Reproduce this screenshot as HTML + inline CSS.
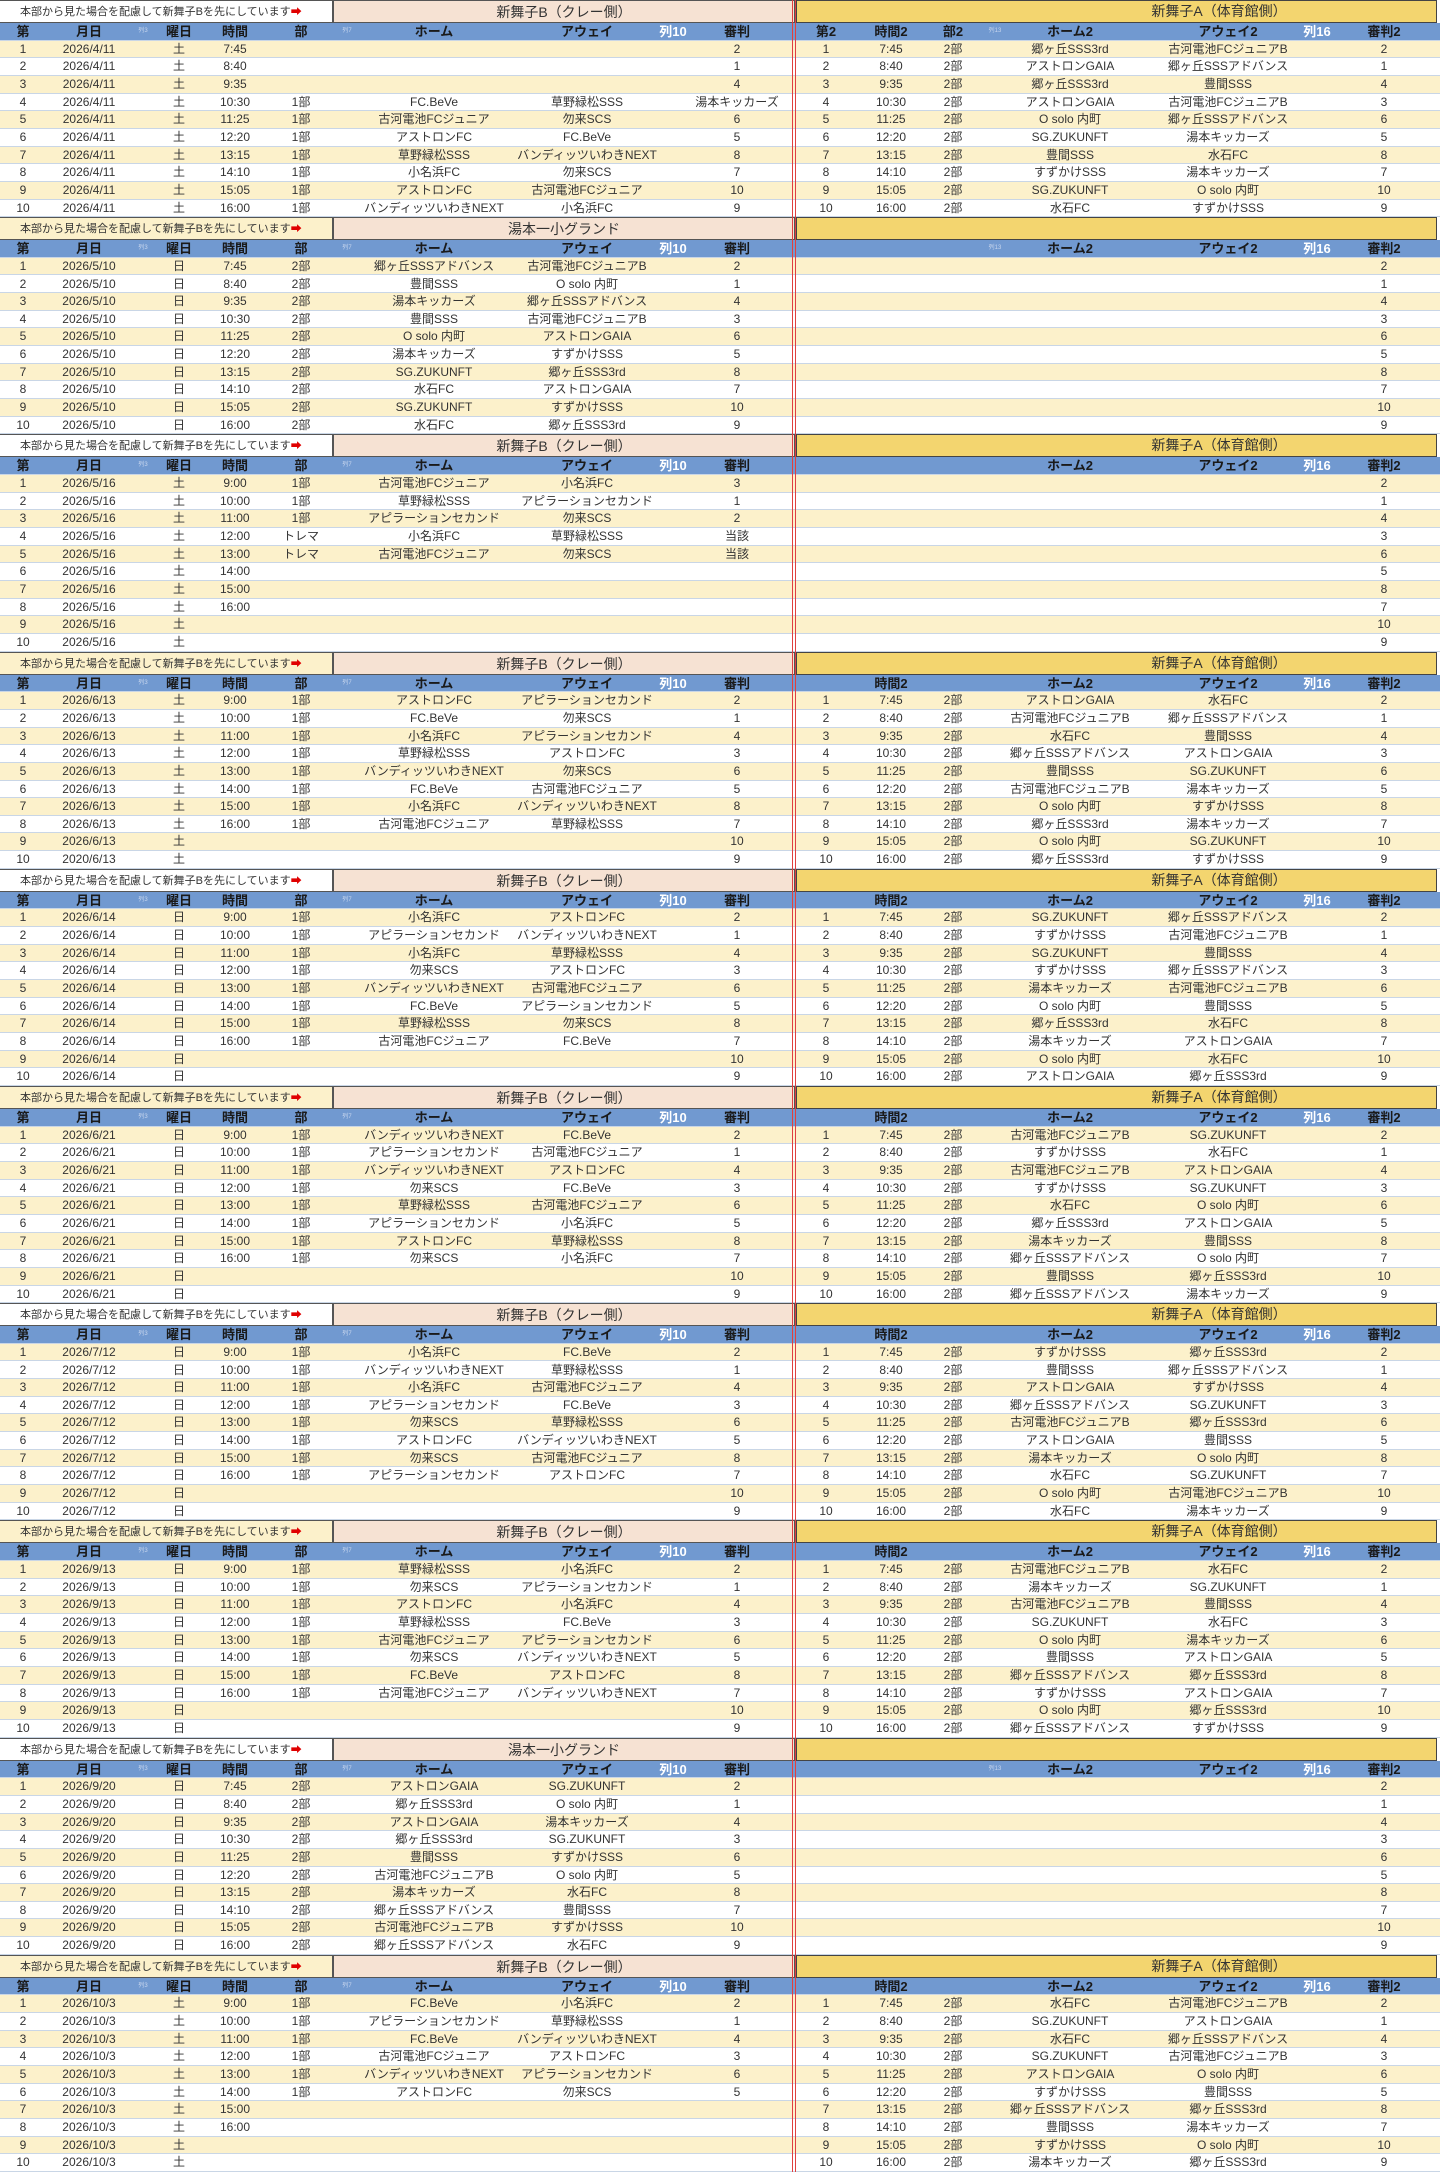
<!DOCTYPE html>
<html><head><meta charset="utf-8">
<style>
*{margin:0;padding:0;box-sizing:border-box}
body{width:1440px;height:2172px;background:#fff;position:relative;overflow:hidden;font-family:"Liberation Sans","Noto Sans CJK JP",sans-serif;font-size:12px;color:#333}
.r{position:absolute;left:0;width:1440px;border-bottom:1px solid #c9d6e6}
.c{position:absolute;top:0;text-align:center;white-space:nowrap;transform:translateX(-50%)}
.h{background:#7199d0;font-weight:bold;color:#1a1a1a;font-size:13px}
.y{background:#fcf1cb}
.w{background:#fff}
.red{position:absolute;top:0;width:1px;height:2172px;background:#e04040}
</style></head><body>
<div id="root"></div>
<div class="red" style="left:792px"></div><div class="red" style="left:795px"></div>
<script>
const T=['7:45','8:40','9:35','10:30','11:25','12:20','13:15','14:10','15:05','16:00'];
const T1=['9:00','10:00','11:00','12:00','13:00','14:00','15:00','16:00','',''];
const REF=['2','1','4','3','6','5','8','7','10','9'];
const B=[
{d:'2026/4/11',w:'土',title:'新舞子B（クレー側）',a:true,hdr:'full',lt:T,
L:[['','','',''],['','','',''],['','','',''],['1部','FC.BeVe','草野緑松SSS','湯本キッカーズ'],['1部','古河電池FCジュニア','勿来SCS','6'],['1部','アストロンFC','FC.BeVe','5'],['1部','草野緑松SSS','バンディッツいわきNEXT','8'],['1部','小名浜FC','勿来SCS','7'],['1部','アストロンFC','古河電池FCジュニア','10'],['1部','バンディッツいわきNEXT','小名浜FC','9']],
L0:['2','1','4'],
R:[['郷ヶ丘SSS3rd','古河電池FCジュニアB'],['アストロンGAIA','郷ヶ丘SSSアドバンス'],['郷ヶ丘SSS3rd','豊間SSS'],['アストロンGAIA','古河電池FCジュニアB'],['O solo 内町','郷ヶ丘SSSアドバンス'],['SG.ZUKUNFT','湯本キッカーズ'],['豊間SSS','水石FC'],['すずかけSSS','湯本キッカーズ'],['SG.ZUKUNFT','O solo 内町'],['水石FC','すずかけSSS']]},
{d:'2026/5/10',w:'日',title:'湯本一小グランド',a:false,hdr:'none',lt:T,
L:[['2部','郷ヶ丘SSSアドバンス','古河電池FCジュニアB','2'],['2部','豊間SSS','O solo 内町','1'],['2部','湯本キッカーズ','郷ヶ丘SSSアドバンス','4'],['2部','豊間SSS','古河電池FCジュニアB','3'],['2部','O solo 内町','アストロンGAIA','6'],['2部','湯本キッカーズ','すずかけSSS','5'],['2部','SG.ZUKUNFT','郷ヶ丘SSS3rd','8'],['2部','水石FC','アストロンGAIA','7'],['2部','SG.ZUKUNFT','すずかけSSS','10'],['2部','水石FC','郷ヶ丘SSS3rd','9']],R:null},
{d:'2026/5/16',w:'土',title:'新舞子B（クレー側）',a:true,hdr:'none',lt:T1,
L:[['1部','古河電池FCジュニア','小名浜FC','3'],['1部','草野緑松SSS','アピラーションセカンド','1'],['1部','アピラーションセカンド','勿来SCS','2'],['トレマ','小名浜FC','草野緑松SSS','当該'],['トレマ','古河電池FCジュニア','勿来SCS','当該'],['','','',''],['','','',''],['','','',''],['','','',''],['','','','']],R:null},
{d:'2026/6/13',w:'土',title:'新舞子B（クレー側）',a:true,hdr:'time',lt:T1,
L:[['1部','アストロンFC','アピラーションセカンド','2'],['1部','FC.BeVe','勿来SCS','1'],['1部','小名浜FC','アピラーションセカンド','4'],['1部','草野緑松SSS','アストロンFC','3'],['1部','バンディッツいわきNEXT','勿来SCS','6'],['1部','FC.BeVe','古河電池FCジュニア','5'],['1部','小名浜FC','バンディッツいわきNEXT','8'],['1部','古河電池FCジュニア','草野緑松SSS','7'],['','','','10'],['','','','9']],
R:[['アストロンGAIA','水石FC'],['古河電池FCジュニアB','郷ヶ丘SSSアドバンス'],['水石FC','豊間SSS'],['郷ヶ丘SSSアドバンス','アストロンGAIA'],['豊間SSS','SG.ZUKUNFT'],['古河電池FCジュニアB','湯本キッカーズ'],['O solo 内町','すずかけSSS'],['郷ヶ丘SSS3rd','湯本キッカーズ'],['O solo 内町','SG.ZUKUNFT'],['郷ヶ丘SSS3rd','すずかけSSS']]},
{d:'2026/6/14',w:'日',title:'新舞子B（クレー側）',a:true,hdr:'time',lt:T1,
L:[['1部','小名浜FC','アストロンFC','2'],['1部','アピラーションセカンド','バンディッツいわきNEXT','1'],['1部','小名浜FC','草野緑松SSS','4'],['1部','勿来SCS','アストロンFC','3'],['1部','バンディッツいわきNEXT','古河電池FCジュニア','6'],['1部','FC.BeVe','アピラーションセカンド','5'],['1部','草野緑松SSS','勿来SCS','8'],['1部','古河電池FCジュニア','FC.BeVe','7'],['','','','10'],['','','','9']],
R:[['SG.ZUKUNFT','郷ヶ丘SSSアドバンス'],['すずかけSSS','古河電池FCジュニアB'],['SG.ZUKUNFT','豊間SSS'],['すずかけSSS','郷ヶ丘SSSアドバンス'],['湯本キッカーズ','古河電池FCジュニアB'],['O solo 内町','豊間SSS'],['郷ヶ丘SSS3rd','水石FC'],['湯本キッカーズ','アストロンGAIA'],['O solo 内町','水石FC'],['アストロンGAIA','郷ヶ丘SSS3rd']]},
{d:'2026/6/21',w:'日',title:'新舞子B（クレー側）',a:true,hdr:'time',lt:T1,
L:[['1部','バンディッツいわきNEXT','FC.BeVe','2'],['1部','アピラーションセカンド','古河電池FCジュニア','1'],['1部','バンディッツいわきNEXT','アストロンFC','4'],['1部','勿来SCS','FC.BeVe','3'],['1部','草野緑松SSS','古河電池FCジュニア','6'],['1部','アピラーションセカンド','小名浜FC','5'],['1部','アストロンFC','草野緑松SSS','8'],['1部','勿来SCS','小名浜FC','7'],['','','','10'],['','','','9']],
R:[['古河電池FCジュニアB','SG.ZUKUNFT'],['すずかけSSS','水石FC'],['古河電池FCジュニアB','アストロンGAIA'],['すずかけSSS','SG.ZUKUNFT'],['水石FC','O solo 内町'],['郷ヶ丘SSS3rd','アストロンGAIA'],['湯本キッカーズ','豊間SSS'],['郷ヶ丘SSSアドバンス','O solo 内町'],['豊間SSS','郷ヶ丘SSS3rd'],['郷ヶ丘SSSアドバンス','湯本キッカーズ']]},
{d:'2026/7/12',w:'日',title:'新舞子B（クレー側）',a:true,hdr:'time',lt:T1,
L:[['1部','小名浜FC','FC.BeVe','2'],['1部','バンディッツいわきNEXT','草野緑松SSS','1'],['1部','小名浜FC','古河電池FCジュニア','4'],['1部','アピラーションセカンド','FC.BeVe','3'],['1部','勿来SCS','草野緑松SSS','6'],['1部','アストロンFC','バンディッツいわきNEXT','5'],['1部','勿来SCS','古河電池FCジュニア','8'],['1部','アピラーションセカンド','アストロンFC','7'],['','','','10'],['','','','9']],
R:[['すずかけSSS','郷ヶ丘SSS3rd'],['豊間SSS','郷ヶ丘SSSアドバンス'],['アストロンGAIA','すずかけSSS'],['郷ヶ丘SSSアドバンス','SG.ZUKUNFT'],['古河電池FCジュニアB','郷ヶ丘SSS3rd'],['アストロンGAIA','豊間SSS'],['湯本キッカーズ','O solo 内町'],['水石FC','SG.ZUKUNFT'],['O solo 内町','古河電池FCジュニアB'],['水石FC','湯本キッカーズ']]},
{d:'2026/9/13',w:'日',title:'新舞子B（クレー側）',a:true,hdr:'time',lt:T1,
L:[['1部','草野緑松SSS','小名浜FC','2'],['1部','勿来SCS','アピラーションセカンド','1'],['1部','アストロンFC','小名浜FC','4'],['1部','草野緑松SSS','FC.BeVe','3'],['1部','古河電池FCジュニア','アピラーションセカンド','6'],['1部','勿来SCS','バンディッツいわきNEXT','5'],['1部','FC.BeVe','アストロンFC','8'],['1部','古河電池FCジュニア','バンディッツいわきNEXT','7'],['','','','10'],['','','','9']],
R:[['古河電池FCジュニアB','水石FC'],['湯本キッカーズ','SG.ZUKUNFT'],['古河電池FCジュニアB','豊間SSS'],['SG.ZUKUNFT','水石FC'],['O solo 内町','湯本キッカーズ'],['豊間SSS','アストロンGAIA'],['郷ヶ丘SSSアドバンス','郷ヶ丘SSS3rd'],['すずかけSSS','アストロンGAIA'],['O solo 内町','郷ヶ丘SSS3rd'],['郷ヶ丘SSSアドバンス','すずかけSSS']]},
{d:'2026/9/20',w:'日',title:'湯本一小グランド',a:false,hdr:'none',lt:T,
L:[['2部','アストロンGAIA','SG.ZUKUNFT','2'],['2部','郷ヶ丘SSS3rd','O solo 内町','1'],['2部','アストロンGAIA','湯本キッカーズ','4'],['2部','郷ヶ丘SSS3rd','SG.ZUKUNFT','3'],['2部','豊間SSS','すずかけSSS','6'],['2部','古河電池FCジュニアB','O solo 内町','5'],['2部','湯本キッカーズ','水石FC','8'],['2部','郷ヶ丘SSSアドバンス','豊間SSS','7'],['2部','古河電池FCジュニアB','すずかけSSS','10'],['2部','郷ヶ丘SSSアドバンス','水石FC','9']],R:null},
{d:'2026/10/3',w:'土',title:'新舞子B（クレー側）',a:true,hdr:'time',lt:T1,
L:[['1部','FC.BeVe','小名浜FC','2'],['1部','アピラーションセカンド','草野緑松SSS','1'],['1部','FC.BeVe','バンディッツいわきNEXT','4'],['1部','古河電池FCジュニア','アストロンFC','3'],['1部','バンディッツいわきNEXT','アピラーションセカンド','6'],['1部','アストロンFC','勿来SCS','5'],['','','',''],['','','',''],['','','',''],['','','','']],
R:[['水石FC','古河電池FCジュニアB'],['SG.ZUKUNFT','アストロンGAIA'],['水石FC','郷ヶ丘SSSアドバンス'],['SG.ZUKUNFT','古河電池FCジュニアB'],['アストロンGAIA','O solo 内町'],['すずかけSSS','豊間SSS'],['郷ヶ丘SSSアドバンス','郷ヶ丘SSS3rd'],['豊間SSS','湯本キッカーズ'],['すずかけSSS','O solo 内町'],['湯本キッカーズ','郷ヶ丘SSS3rd']]}
];
let h='';
const BH=217.2,TH=23,RH=(BH-TH)/11;
function cell(x,t,st){return t?`<div class="c" style="left:${x}px;${st||''}">${t}</div>`:'';}
B.forEach((b,bi)=>{
 const top=bi*BH;
 // title row
 h+=`<div style="position:absolute;left:0;top:${top}px;width:333px;height:${TH}px;background:${bi%2?'#fcf1cb':'#fff'};border:1px solid #555;border-left:none;font-size:11px;line-height:${TH}px;padding-left:20px;color:#333">本部から見た場合を配慮して新舞子Bを先にしています<span style="color:#e00000">➡</span></div>`;
 h+=`<div style="position:absolute;left:333px;top:${top}px;width:462px;height:${TH}px;background:#f6e2d3;border:1px solid #555;border-left:1px solid #555;font-size:14px;line-height:${TH}px;text-align:center;color:#333">${b.title}</div>`;
 h+=`<div style="position:absolute;left:796px;top:${top}px;width:641px;height:${TH}px;background:#f3d56f;border:1.5px solid #444;font-size:14px;line-height:${TH-2}px;color:#333"><span style="position:absolute;left:${1218-796}px;transform:translateX(-50%)">${b.a?'新舞子A（体育館側）':''}</span></div>`;
 // header
 let y=top+TH;
 h+=`<div class="r h" style="top:${y}px;height:${RH}px;line-height:${RH}px">`+
  cell(23,'第')+cell(89,'月日')+cell(143,'列3','font-size:6px;color:#c8d6ee;font-weight:normal')+cell(179,'曜日')+cell(235,'時間')+cell(301,'部')+cell(347,'列7','font-size:6px;color:#c8d6ee;font-weight:normal')+cell(434,'ホーム')+cell(587,'アウェイ')+cell(673,'列10','color:#fff')+cell(737,'審判')+
  (b.hdr=='full'?cell(826,'第2')+cell(891,'時間2')+cell(953,'部2')+cell(995,'列13','font-size:6px;color:#c8d6ee;font-weight:normal'):'')+
  (b.hdr=='time'?cell(891,'時間2'):'')+(b.hdr=='none'&&bi!=2&&bi!=8?'':'')+
  (b.hdr=='none'&&(bi==1||bi==8)?cell(995,'列13','font-size:6px;color:#c8d6ee;font-weight:normal'):'')+
  cell(1070,'ホーム2')+cell(1228,'アウェイ2')+cell(1317,'列16','color:#fff')+cell(1384,'審判2')+`</div>`;
 for(let i=0;i<10;i++){
  y=top+TH+RH*(i+1);
  const L=b.L[i];
  let ref=L[3]; if(bi==0&&i<3) ref=b.L0[i];
  let dd=b.d; if(bi==3&&i==9) dd='2020/6/13';
  h+=`<div class="r ${i%2?'w':'y'}" style="top:${y}px;height:${RH}px;line-height:${RH-1}px">`+
   cell(23,String(i+1))+cell(89,dd)+cell(179,b.w)+cell(235,b.lt[i])+cell(301,L[0])+cell(434,L[1])+cell(587,L[2])+cell(737,ref);
  if(b.R){h+=cell(826,String(i+1))+cell(891,T[i])+cell(953,'2部')+cell(1070,b.R[i][0])+cell(1228,b.R[i][1]);}
  h+=cell(1384,REF[i])+`</div>`;
 }
});
document.getElementById('root').innerHTML=h;
</script>
</body></html>
